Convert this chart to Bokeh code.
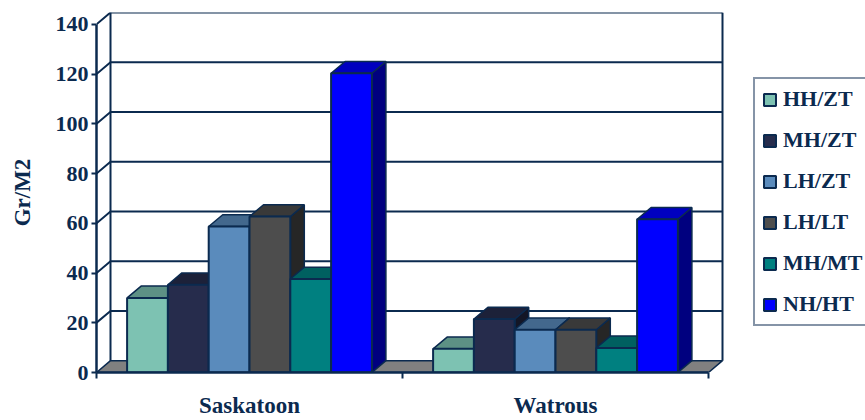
from bokeh.plotting import figure
from bokeh.models import Range1d, FixedTicker, Legend, LegendItem
from bokeh.embed import file_html
from bokeh.resources import INLINE

# ---------------- data ----------------
categories = ["Saskatoon", "Watrous"]
series_names = ["HH/ZT", "MH/ZT", "LH/ZT", "LH/LT", "MH/MT", "NH/HT"]
hh_zt = [30.0, 9.5]
mh_zt = [35.3, 21.5]
lh_zt = [58.7, 17.2]
lh_lt = [62.7, 17.2]
mh_mt = [37.6, 9.9]
nh_ht = [120.3, 61.6]
series_values = [hh_zt, mh_zt, lh_zt, lh_lt, mh_mt, nh_ht]
y_ticks = [0, 20, 40, 60, 80, 100, 120, 140]

# ---------------- styles ----------------
front_colors = ["#7DC2B2", "#262C4C", "#5A8BBC", "#4D4D4D", "#008080", "#0000FF"]
NAVY = "#0B2A4F"
FLOOR = "#808080"
FONT = "Liberation Serif"


def shade(hex_color, f):
    h = hex_color.lstrip("#")
    r, g, b = (int(h[i:i + 2], 16) for i in (0, 2, 4))
    return "#%02X%02X%02X" % (int(r * f), int(g * f), int(b * f))


# layout geometry (pixels)
FRAME_LEFT, FRAME_TOP, FRAME_BOTTOM = 96, 12, 378
W, H = 865, 420
CAT_PX = 306.0          # pixels per category
Y_MAX = 140
PX_PER_UNIT = (378 - 24) / 140.0
DEPTH_X_PX, DEPTH_Y_PX = 14, 12

frame_w = W - FRAME_LEFT
frame_h = FRAME_BOTTOM - FRAME_TOP
x_end = frame_w / CAT_PX
y_end = frame_h / PX_PER_UNIT
DX = DEPTH_X_PX / CAT_PX
DY = DEPTH_Y_PX / PX_PER_UNIT
n_cat = len(categories)
GAP = 0.1
BAR_W = (1 - 2 * GAP) / len(series_names)

p = figure(width=W, height=H, x_range=Range1d(0, x_end), y_range=Range1d(0, y_end),
           output_backend="svg", toolbar_location=None,
           min_border_left=FRAME_LEFT, min_border_right=0,
           min_border_top=FRAME_TOP, min_border_bottom=H - FRAME_BOTTOM)
p.outline_line_color = None
p.xgrid.visible = False
p.ygrid.visible = False
p.background_fill_color = "white"
p.border_fill_color = "white"

# back wall + left wall (white)
p.patch([DX, n_cat + DX, n_cat + DX, DX], [DY, DY, Y_MAX + DY, Y_MAX + DY],
        fill_color="white", line_color=None)
p.patch([0, DX, DX, 0], [0, DY, Y_MAX + DY, Y_MAX], fill_color="white", line_color=None)

# gridlines (left wall diagonal + back wall horizontal)
gx, gy = [], []
for t in y_ticks[1:]:
    gx.append([0, DX, n_cat + DX])
    gy.append([t, t + DY, t + DY])
p.multi_line(gx, gy, line_color=NAVY, line_width=2)
# back wall verticals
p.multi_line([[DX, DX], [n_cat + DX, n_cat + DX]],
             [[DY, Y_MAX + DY], [DY, Y_MAX + DY]], line_color=NAVY, line_width=2)

# floor
p.patch([0, n_cat, n_cat + DX, DX], [0, 0, DY, DY], fill_color=FLOOR,
        line_color=NAVY, line_width=1.5)

# bars
front_renderers = []
for j, vals in enumerate(series_values):
    lefts = [c + GAP + j * BAR_W for c in range(n_cat)]
    rights = [l + BAR_W for l in lefts]
    side_xs = [[r, r + DX, r + DX, r] for r in rights]
    side_ys = [[0, DY, v + DY, v] for v in vals]
    p.patches(side_xs, side_ys, fill_color=shade(front_colors[j], 0.5),
              line_color=NAVY, line_width=1.5)
    top_xs = [[l, r, r + DX, l + DX] for l, r in zip(lefts, rights)]
    top_ys = [[v, v, v + DY, v + DY] for v in vals]
    p.patches(top_xs, top_ys, fill_color=shade(front_colors[j], 0.75),
              line_color=NAVY, line_width=1.5)
    fr = p.quad(left=lefts, right=rights, bottom=[0] * n_cat, top=vals,
                fill_color=front_colors[j], line_color=NAVY, line_width=2)
    front_renderers.append(fr)

# y axis
ya = p.yaxis[0]
ya.ticker = FixedTicker(ticks=y_ticks)
ya.bounds = (0, Y_MAX)
ya.axis_line_color = NAVY
ya.axis_line_width = 2.5
ya.major_tick_line_color = NAVY
ya.major_tick_line_width = 2
ya.major_tick_out = 5
ya.major_tick_in = 0
ya.minor_tick_line_color = None
ya.major_label_standoff = 3
ya.major_label_text_font = FONT
ya.major_label_text_font_style = "bold"
ya.major_label_text_font_size = "22px"
ya.major_label_text_color = NAVY
ya.axis_label = "Gr/M2"
ya.axis_label_text_font = FONT
ya.axis_label_text_font_style = "bold"
ya.axis_label_text_font_size = "23px"
ya.axis_label_text_color = NAVY
ya.axis_label_standoff = 18

# x axis
xa = p.xaxis[0]
centers = [c + 0.5 for c in range(n_cat)]
xa.ticker = FixedTicker(ticks=centers, minor_ticks=list(range(n_cat + 1)))
xa.major_label_overrides = {c: name for c, name in zip(centers, categories)}
xa.bounds = (0, n_cat)
xa.axis_line_color = NAVY
xa.axis_line_width = 2.5
xa.major_tick_line_color = None
xa.major_tick_out = 0
xa.major_tick_in = 0
xa.minor_tick_line_color = NAVY
xa.minor_tick_line_width = 2
xa.minor_tick_out = 6
xa.minor_tick_in = 0
xa.major_label_standoff = 14
xa.major_label_text_font = FONT
xa.major_label_text_font_style = "bold"
xa.major_label_text_font_size = "23px"
xa.major_label_text_color = NAVY

legend = Legend(items=[LegendItem(label=n, renderers=[r]) for n, r in zip(series_names, front_renderers)],
                location=(753 - FRAME_LEFT, FRAME_BOTTOM - 332), margin=0,
                glyph_width=15, glyph_height=15, padding=7, spacing=15, label_standoff=6,
                label_text_font=FONT, label_text_font_style="bold", label_text_font_size="22px",
                label_text_color=NAVY, border_line_color=NAVY, border_line_width=2,
                background_fill_color="white", background_fill_alpha=1)
p.add_layout(legend)

open("out.html", "w").write(file_html(p, INLINE))
